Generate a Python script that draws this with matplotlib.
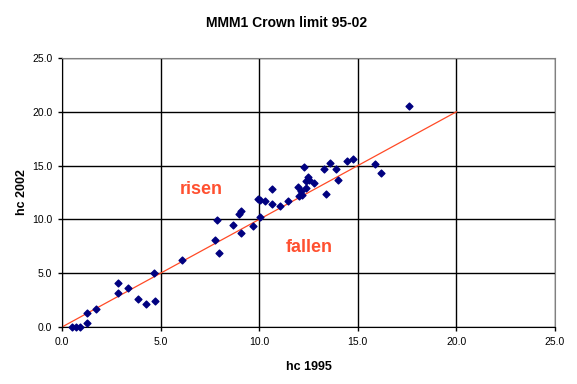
import matplotlib.pyplot as plt

# hc values
hc_1995 = [0.5, 0.7, 0.9, 1.25, 1.25, 1.74, 2.86, 2.86, 3.37, 3.84, 4.26, 4.71, 4.65,
           6.08, 7.77, 7.84, 7.96, 8.66, 8.97, 9.09, 9.09, 9.7, 9.95, 10.03, 10.05,
           10.29, 10.66, 10.66, 11.05, 11.45, 11.96, 12.0, 12.1, 12.16, 12.27, 12.37,
           12.37, 12.45, 12.52, 12.79, 13.3, 13.41, 13.58, 13.87, 14.0, 14.46, 14.77,
           15.86, 16.18, 17.59]
hc_2002 = [0.0, 0.0, 0.0, 0.4, 1.3, 1.65, 4.05, 3.2, 3.6, 2.6, 2.15, 2.4, 5.0,
           6.2, 8.1, 9.9, 6.9, 9.5, 10.5, 10.8, 8.7, 9.4, 11.9, 11.8, 10.2,
           11.7, 12.8, 11.4, 11.2, 11.7, 13.0, 12.2, 12.6, 12.3, 14.9, 12.9,
           13.6, 13.9, 13.7, 13.4, 14.65, 12.4, 15.25, 14.65, 13.7, 15.4, 15.6,
           15.15, 14.3, 20.5]
line_x = [0, 20]
line_y = [0, 20]
ticks = [0, 5, 10, 15, 20, 25]

plt.rcParams['font.family'] = ['Liberation Sans', 'DejaVu Sans']

fig = plt.figure(figsize=(5.77, 3.84), dpi=100)
ax = fig.add_axes([62 / 577, 57 / 384, 493 / 577, 269 / 384])

ax.plot(line_x, line_y, color='#FF4A26', lw=0.9, zorder=2)
ax.scatter(hc_1995, hc_2002, marker='D', s=12, color='#000080', zorder=3, clip_on=False)

ax.set_xlim(0, 25)
ax.set_ylim(0, 25)
ax.set_xticks(ticks)
ax.set_yticks(ticks)
ax.set_xticklabels([f'{t:.1f}' for t in ticks], fontsize=7.5)
ax.set_yticklabels([f'{t:.1f}' for t in ticks], fontsize=7.5)
ax.grid(True, color='black', lw=1)
ax.set_axisbelow(True)
ax.tick_params(direction='out', length=3, width=1, pad=4)

for side in ['top', 'right']:
    ax.spines[side].set_color('#808080')
for side in ['left', 'bottom']:
    ax.spines[side].set_color('black')

ax.text(5.95, 12.4, 'risen', color='#FF5030', fontsize=13, fontweight='bold')
ax.text(11.35, 7.0, 'fallen', color='#FF5030', fontsize=13, fontweight='bold')

ax.set_xlabel('hc 1995', fontsize=9, fontweight='bold', labelpad=10)
ax.set_ylabel('hc 2002', fontsize=9, fontweight='bold', labelpad=3)
fig.text(0.497, 0.94, 'MMM1 Crown limit 95-02', fontsize=10, fontweight='bold',
         ha='center', va='center')

fig.savefig('out.png', dpi=100)
